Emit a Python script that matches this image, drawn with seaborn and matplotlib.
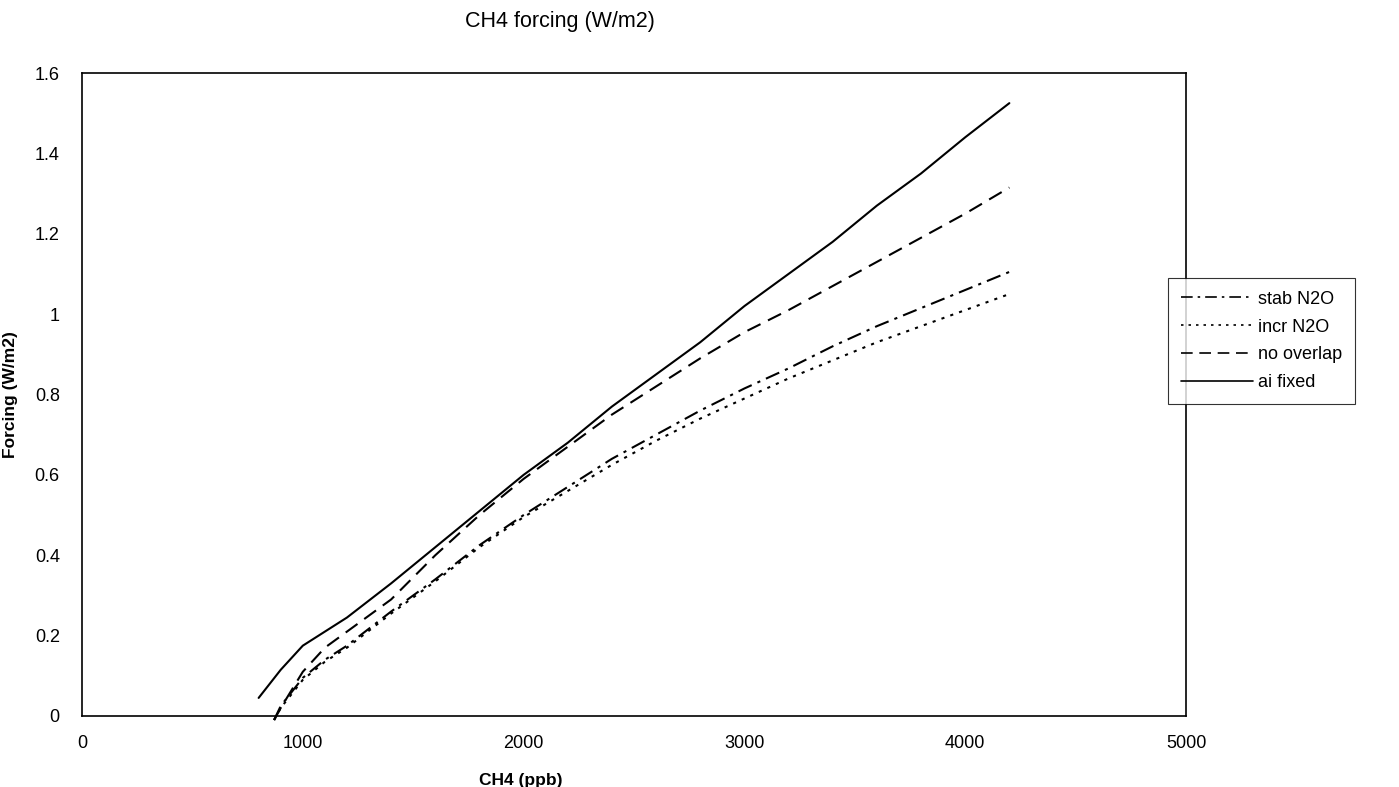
import numpy as np
import pandas as pd
import matplotlib
matplotlib.use("Agg")
import matplotlib.pyplot as plt
import seaborn as sns

# ---- data ----
x_ai = [800, 900, 1000, 1100, 1200, 1400, 1600, 1800, 2000, 2200, 2400, 2600,
        2800, 3000, 3200, 3400, 3600, 3800, 4000, 4200]
ai_fixed = [0.045, 0.115, 0.175, 0.21, 0.245, 0.33, 0.42, 0.51, 0.60, 0.68, 0.77,
            0.85, 0.93, 1.02, 1.10, 1.18, 1.27, 1.35, 1.44, 1.525]

x_other = [870, 900, 1000, 1100, 1200, 1400, 1600, 1800, 2000, 2200, 2400, 2600,
           2800, 3000, 3200, 3400, 3600, 3800, 4000, 4200]
no_overlap = [-0.01, 0.02, 0.11, 0.17, 0.21, 0.29, 0.40, 0.50, 0.59, 0.67, 0.75,
              0.82, 0.89, 0.955, 1.01, 1.07, 1.13, 1.19, 1.25, 1.315]
stab_n2o = [-0.01, 0.025, 0.095, 0.14, 0.175, 0.26, 0.34, 0.425, 0.50, 0.57, 0.64,
            0.70, 0.76, 0.815, 0.865, 0.92, 0.97, 1.015, 1.06, 1.105]
incr_n2o = [-0.01, 0.02, 0.09, 0.135, 0.17, 0.255, 0.335, 0.42, 0.495, 0.56, 0.625,
            0.685, 0.74, 0.79, 0.84, 0.885, 0.93, 0.97, 1.01, 1.05]

series_names = ["stab N2O", "incr N2O", "no overlap", "ai fixed"]
x_ticks = [0, 1000, 2000, 3000, 4000, 5000]
y_ticks = [0, 0.2, 0.4, 0.6, 0.8, 1.0, 1.2, 1.4, 1.6]
y_tick_labels = ["0", "0.2", "0.4", "0.6", "0.8", "1", "1.2", "1.4", "1.6"]

frames = []
for name, xs, ys in [("stab N2O", x_other, stab_n2o),
                     ("incr N2O", x_other, incr_n2o),
                     ("no overlap", x_other, no_overlap),
                     ("ai fixed", x_ai, ai_fixed)]:
    frames.append(pd.DataFrame({"CH4": xs, "F": ys, "series": name}))
df = pd.concat(frames, ignore_index=True)

sns.set_style("white")
plt.rcParams["font.family"] = ["Liberation Sans", "DejaVu Sans"]
plt.rcParams["text.color"] = "black"
plt.rcParams["axes.labelcolor"] = "black"
plt.rcParams["xtick.color"] = "black"
plt.rcParams["ytick.color"] = "black"

fig = plt.figure(figsize=(13.99, 7.87), dpi=100)
ax = fig.add_axes([82 / 1399, 1 - 716 / 787, (1186 - 82) / 1399, (716 - 73) / 787])

dashes = {"stab N2O": (7, 3, 1.5, 3),
          "incr N2O": (1.5, 3),
          "no overlap": (7, 4),
          "ai fixed": ""}
sns.lineplot(data=df, x="CH4", y="F", style="series", style_order=series_names,
             dashes=dashes, color="black", linewidth=1.5, ax=ax, sort=False,
             estimator=None, legend=True)
for ln in ax.lines:
    ln.set_clip_on(False)

ax.set_xlim(0, 5000)
ax.set_ylim(0, 1.6)
ax.set_xticks(x_ticks)
ax.set_xticklabels([str(v) for v in x_ticks], fontsize=13)
ax.set_yticks(y_ticks)
ax.set_yticklabels(y_tick_labels, fontsize=13)
ax.tick_params(axis="x", direction="inout", length=8, width=1, pad=10)
ax.tick_params(axis="y", direction="out", length=4, width=1, pad=12)
for s in ax.spines.values():
    s.set_color("black")
    s.set_linewidth(1.2)
ax.set_xlabel("CH4 (ppb)", fontsize=12.5, fontweight="bold")
ax.set_ylabel("Forcing (W/m2)", fontsize=12.5, fontweight="bold")
ax.xaxis.set_label_coords((521 - 82) / 1104, -(773 - 716) / 643)
ax.yaxis.set_label_coords(-(82 - 18) / 1104, 0.5)
ax.grid(False)

fig.text(560 / 1399, 1 - 21 / 787, "CH4 forcing (W/m2)", ha="center", va="center",
         fontsize=15.5)

leg = ax.legend(loc="center left", bbox_to_anchor=(1168 / 1399, 1 - 341 / 787),
                bbox_transform=fig.transFigure, frameon=True, fancybox=False,
                fontsize=13, handlelength=4.0, handletextpad=0.3,
                borderpad=0.7, labelspacing=0.6, borderaxespad=0)
leg.get_frame().set_edgecolor("black")
leg.get_frame().set_linewidth(0.8)
for h in leg.get_lines():
    h.set_linewidth(1.2)

fig.savefig("out.png", dpi=100, facecolor="white")
